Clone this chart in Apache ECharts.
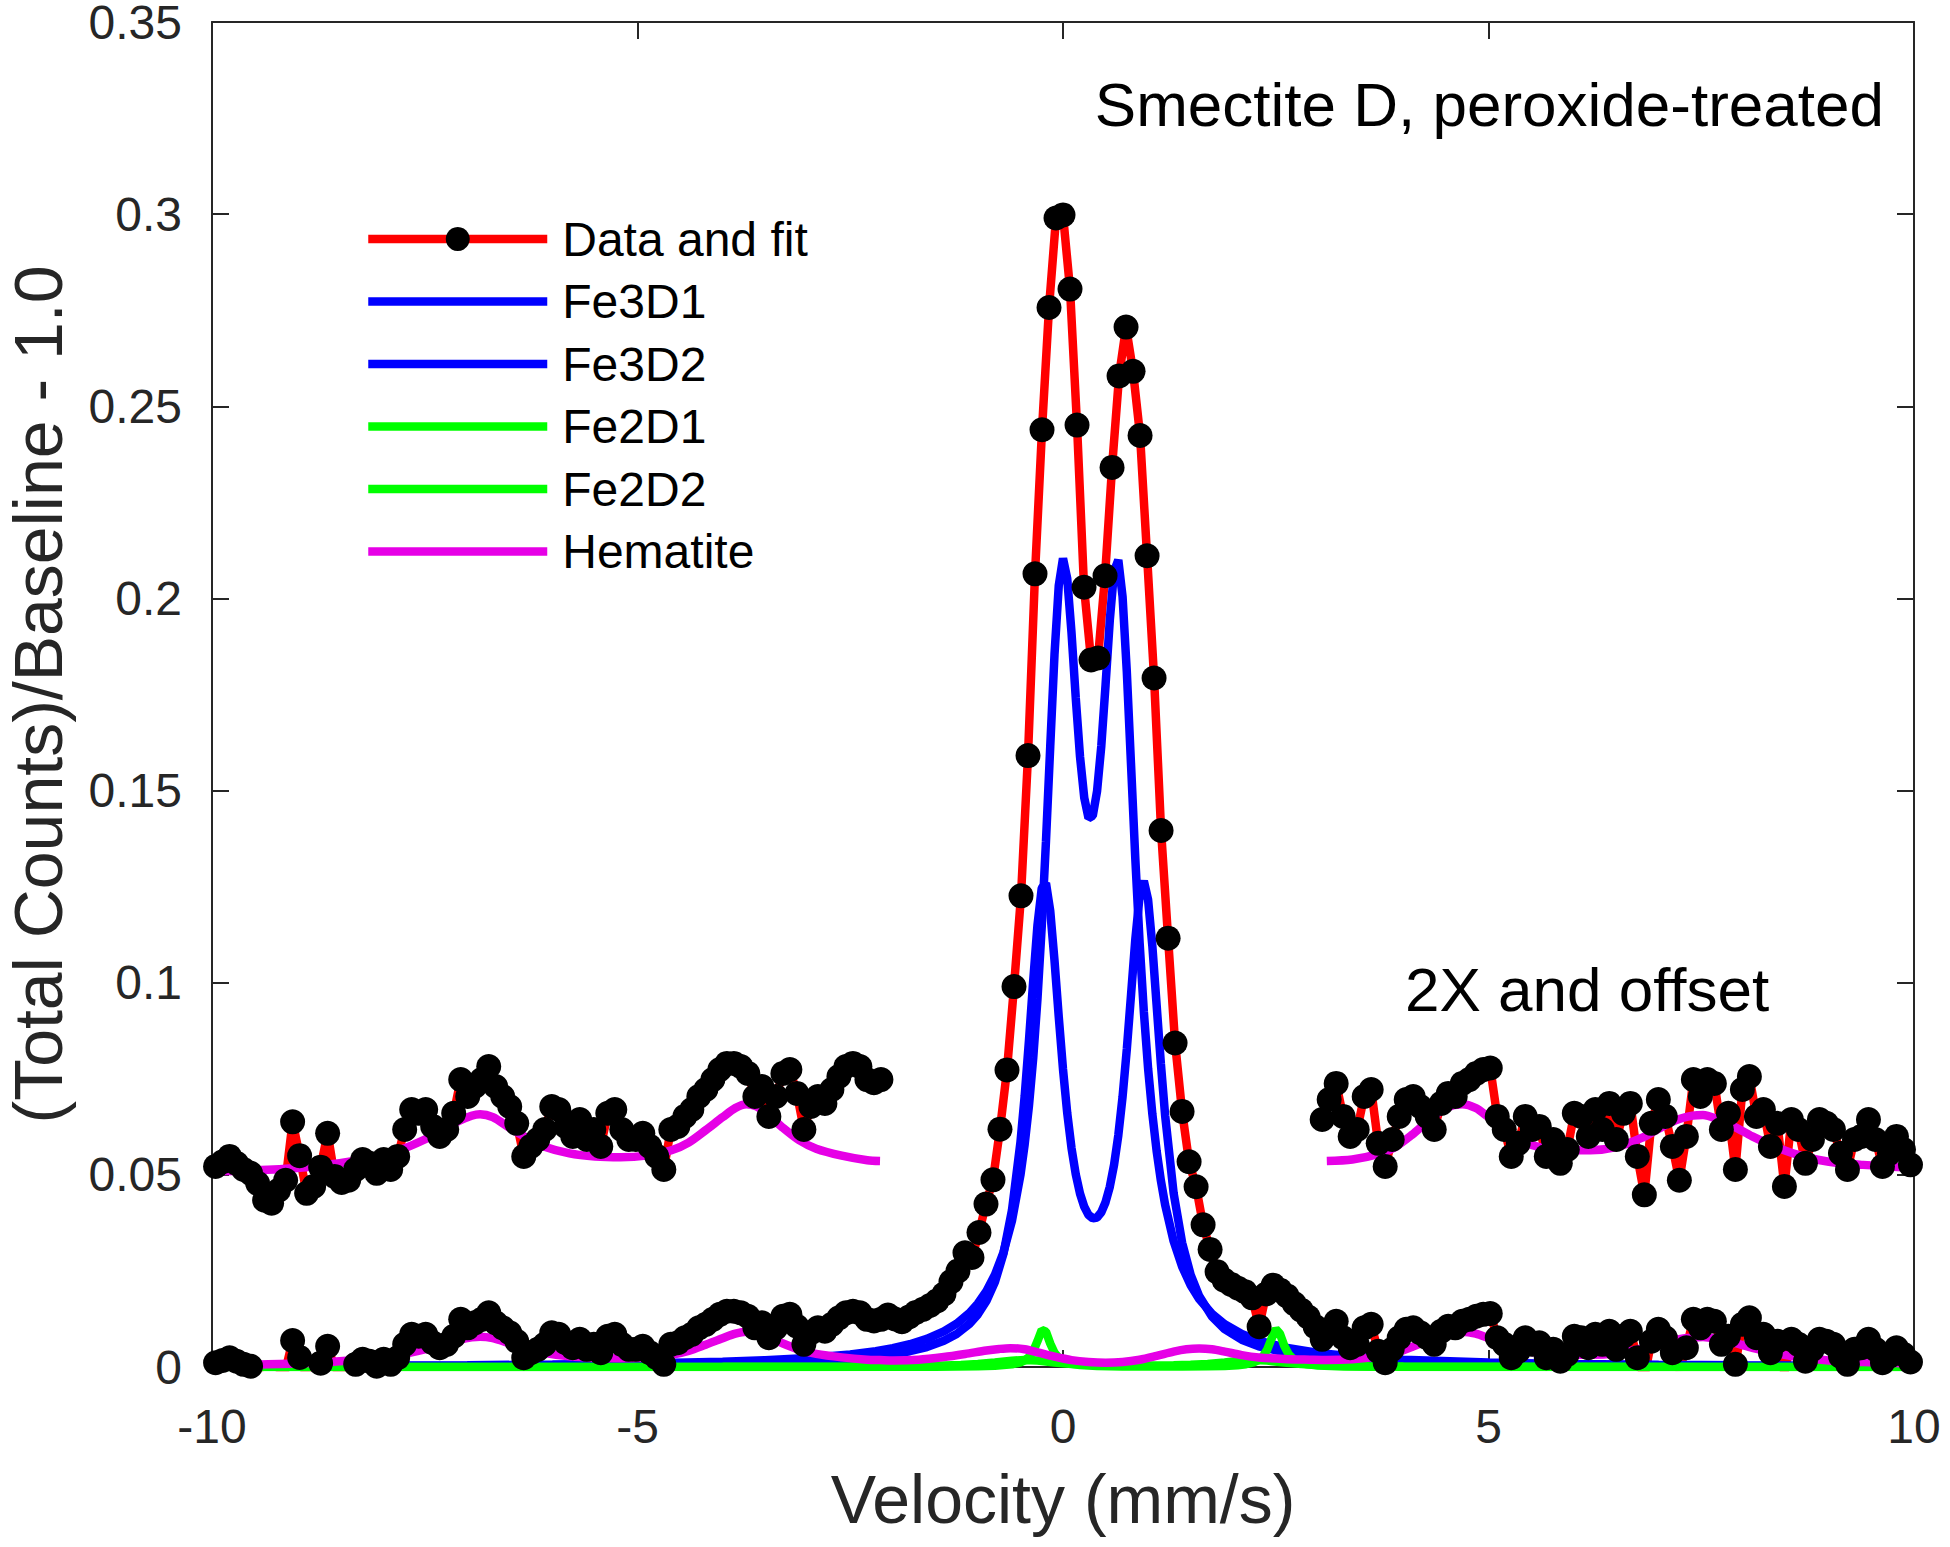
<!DOCTYPE html>
<html>
<head>
<meta charset="utf-8">
<script src="https://cdn.jsdelivr.net/npm/echarts@6/dist/echarts.min.js"></script>
<style>
  html, body { margin: 0; padding: 0; background: #fff; }
  #chart { width: 1950px; height: 1547px; }
</style>
</head>
<body>
<div id="chart"></div>
<script>
// ---------------- DATA ----------------
// Velocity channel grid (mm/s): first channel and channel step
const velStart = -9.958;
const velStep = 0.0823;

// Measured spectrum: (Total Counts)/Baseline - 1.0, one value per channel
const dataValues = [
  0.0011, 0.0017, 0.0024, 0.0015, 0.0007, 0.0002, -0.0011, -0.0033, -0.0037, -0.0020,
  -0.0007, 0.0069, 0.0025, -0.0024, -0.0015, 0.0010, 0.0054, -0.0002, -0.0010, -0.0007,
  0.0007, 0.0020, 0.0015, 0.0002, 0.0020, 0.0007, 0.0024, 0.0059, 0.0085, 0.0080,
  0.0085, 0.0063, 0.0050, 0.0059, 0.0080, 0.0124, 0.0102, 0.0115, 0.0124, 0.0141,
  0.0115, 0.0102, 0.0089, 0.0067, 0.0024, 0.0037, 0.0046, 0.0059, 0.0089, 0.0085,
  0.0063, 0.0050, 0.0072, 0.0046, 0.0059, 0.0037, 0.0080, 0.0085, 0.0059, 0.0046,
  0.0046, 0.0054, 0.0037, 0.0024, 0.0007, 0.0059, 0.0063, 0.0076, 0.0085, 0.0102,
  0.0111, 0.0124, 0.0137, 0.0145, 0.0145, 0.0141, 0.0132, 0.0102, 0.0115, 0.0076,
  0.0102, 0.0132, 0.0137, 0.0106, 0.0059, 0.0089, 0.0102, 0.0093, 0.0111, 0.0128,
  0.0141, 0.0145, 0.0141, 0.0124, 0.0120, 0.0124, 0.0135, 0.0125, 0.0118, 0.0130,
  0.0142, 0.0150, 0.0160, 0.0172, 0.0190, 0.0222, 0.0250, 0.0297, 0.0285, 0.0350,
  0.0424, 0.0487, 0.0619, 0.0773, 0.0990, 0.1226, 0.1591, 0.2064, 0.2439, 0.2757,
  0.2990, 0.2998, 0.2805, 0.2451, 0.2029, 0.1840, 0.1845, 0.2059, 0.2341, 0.2579,
  0.2706, 0.2591, 0.2424, 0.2111, 0.1793, 0.1396, 0.1116, 0.0843, 0.0665, 0.0534,
  0.0469, 0.0370, 0.0306, 0.0248, 0.0226, 0.0215, 0.0205, 0.0196, 0.0180, 0.0105,
  0.0190, 0.0213, 0.0200, 0.0185, 0.0165, 0.0148, 0.0130, 0.0105, 0.0072, 0.0098,
  0.0119, 0.0076, 0.0050, 0.0059, 0.0102, 0.0111, 0.0041, 0.0011, 0.0046, 0.0076,
  0.0098, 0.0102, 0.0089, 0.0076, 0.0059, 0.0093, 0.0106, 0.0102, 0.0119, 0.0124,
  0.0132, 0.0137, 0.0139, 0.0076, 0.0059, 0.0024, 0.0041, 0.0076, 0.0059, 0.0063,
  0.0024, 0.0046, 0.0015, 0.0033, 0.0080, 0.0076, 0.0050, 0.0085, 0.0059, 0.0093,
  0.0046, 0.0080, 0.0093, 0.0024, -0.0026, 0.0067, 0.0098, 0.0076, 0.0037, -0.0007,
  0.0050, 0.0124, 0.0102, 0.0124, 0.0119, 0.0059, 0.0080, 0.0007, 0.0111, 0.0128,
  0.0076, 0.0085, 0.0037, 0.0067, -0.0015, 0.0072, 0.0059, 0.0015, 0.0046, 0.0072,
  0.0067, 0.0059, 0.0028, 0.0007, 0.0046, 0.0050, 0.0072, 0.0046, 0.0011, 0.0028,
  0.0050, 0.0033, 0.0013
];

// Fe3+ doublet fit curves
const fe3Vel = [-10, -9, -8, -7, -6, -5, -4, -3.5, -3, -2.5, -2.2, -2, -1.8, -1.6, -1.4, -1.25, -1.1, -1,
  -0.9, -0.8, -0.7, -0.6, -0.5, -0.45, -0.4, -0.35, -0.3, -0.25, -0.2, -0.15, -0.1, -0.05,
  0, 0.05, 0.1, 0.15, 0.2, 0.25, 0.3, 0.35, 0.4, 0.45, 0.5, 0.55, 0.6, 0.65, 0.7, 0.75, 0.8,
  0.85, 0.9, 0.95, 1, 1.05, 1.1, 1.15, 1.2, 1.3, 1.4, 1.5, 1.6, 1.75, 1.9, 2.1, 2.3, 2.6, 3,
  3.5, 4, 5, 6, 7, 8, 9, 10];
const fe3d1Values = [0.00015, 0.00018, 0.00023, 0.0003, 0.0004, 0.00057, 0.00087, 0.00112, 0.00151,
  0.00215, 0.00276, 0.00333, 0.0041, 0.00519, 0.00681, 0.00859, 0.01121, 0.01371,
  0.01717, 0.02211, 0.02944, 0.04075, 0.05848, 0.07059, 0.08492, 0.10051, 0.11498, 0.12458,
  0.12593, 0.11869, 0.1058, 0.09114,
  0.07749, 0.06602, 0.05697, 0.05012, 0.04511, 0.04168, 0.03958, 0.03867, 0.0389, 0.04027,
  0.04288, 0.0469, 0.05261, 0.0603, 0.07031, 0.08272, 0.09699, 0.11136, 0.12248, 0.12649,
  0.12158, 0.10955, 0.09423, 0.07895, 0.06546, 0.04525, 0.03232, 0.024, 0.01846, 0.01315,
  0.00985, 0.00711, 0.0054, 0.0038, 0.00259, 0.00177, 0.00128, 0.00077, 0.00051, 0.00036,
  0.00028, 0.00021, 0.00017];
const fe3d2Values = [0.00024, 0.00029, 0.00037, 0.00047, 0.00064, 0.0009, 0.00137, 0.00176, 0.00234,
  0.00327, 0.00413, 0.00491, 0.00593, 0.00731, 0.00925, 0.01128, 0.01405, 0.01653,
  0.01975, 0.024, 0.02981, 0.038, 0.04994, 0.058, 0.06798, 0.08038, 0.09575, 0.11458,
  0.13684, 0.16145, 0.18532, 0.20332,
  0.21041, 0.20513, 0.19109, 0.17407, 0.15883, 0.14808, 0.14283, 0.14342, 0.1498, 0.16159,
  0.17745, 0.19433, 0.20707, 0.21001, 0.20047, 0.18083, 0.15646, 0.13214, 0.11052, 0.09242,
  0.07768, 0.06581, 0.05624, 0.04852, 0.04222, 0.03274, 0.02611, 0.0213, 0.01772, 0.01384,
  0.01112, 0.00859, 0.00684, 0.00508, 0.00363, 0.00256, 0.0019, 0.00116, 0.00079, 0.00057,
  0.00043, 0.00034, 0.00027];

// Fe2+ doublet fit curves
const fe2d1Vel = [-10, -6, -3, -2, -1.5, -1, -0.8, -0.6, -0.5, -0.45, -0.4, -0.35, -0.3, -0.25, -0.2,
  -0.15, -0.1, -0.05, 0, 0.1, 0.2, 0.4, 0.7, 1, 1.4, 1.7, 1.9, 2.05, 2.15, 2.25, 2.3, 2.35, 2.4,
  2.45, 2.5, 2.55, 2.6, 2.65, 2.7, 2.75, 2.85, 3, 3.3, 3.7, 4.5, 6, 10];
const fe2d1Values = [0.000002, 0.000004, 0.000016, 0.00004, 0.00007, 0.00017, 0.00031, 0.00069, 0.00122,
  0.00171, 0.00257, 0.0041, 0.00671, 0.00962, 0.00917, 0.0061, 0.00372, 0.00236, 0.00159,
  0.00084, 0.00051, 0.00027, 0.00014, 0.00011, 0.00012, 0.00018, 0.00028, 0.00045, 0.00072,
  0.00129, 0.00185, 0.00281, 0.00452, 0.00735, 0.0099, 0.00862, 0.00552, 0.00338, 0.00217,
  0.00148, 0.0008, 0.0004, 0.00016, 0.00007, 0.000025, 0.000008, 0.000002];
const fe2d2Vel = [-10, -8, -6, -4, -3, -2.5, -2, -1.5, -1.2, -1, -0.8, -0.6, -0.45, -0.3, -0.1, 0.1, 0.3,
  0.5, 0.7, 0.9, 1.1, 1.3, 1.5, 1.7, 1.9, 2.1, 2.25, 2.4, 2.6, 2.8, 3, 3.3, 3.6, 4, 5, 6, 8, 10];
const fe2d2Values = [0.000006, 0.00001, 0.000017, 0.000038, 0.000068, 0.0001, 0.00016, 0.0003, 0.00051,
  0.00076, 0.00116, 0.00166, 0.00185, 0.00167, 0.00118, 0.0008, 0.00057, 0.00044, 0.00038,
  0.00036, 0.00038, 0.00044, 0.00057, 0.0008, 0.00118, 0.00167, 0.00185, 0.00166, 0.00116,
  0.00076, 0.00051, 0.0003, 0.0002, 0.00013, 0.00006, 0.000035, 0.000016, 0.000009];

// Hematite sextet fit curve
const hemVel = [-10, -9.5, -9, -8.5, -8.1, -7.8, -7.5, -7.3, -7.1, -6.95, -6.85, -6.7, -6.5, -6.3, -6.1,
  -5.8, -5.5, -5.2, -4.9, -4.6, -4.4, -4.2, -4, -3.85, -3.72, -3.6, -3.45, -3.3, -3.1, -2.9, -2.6,
  -2.3, -2.15, -2, -1.7, -1.4, -1.15, -0.9, -0.75, -0.62, -0.45, -0.3, -0.1, 0.1, 0.3, 0.5, 0.7,
  0.9, 1.1, 1.3, 1.45, 1.6, 1.75, 1.9, 2.1, 2.3, 2.6, 2.9, 3.1, 3.4, 3.7, 3.9, 4.1, 4.3, 4.5,
  4.69, 4.85, 5, 5.2, 5.4, 5.6, 5.9, 6.2, 6.5, 6.8, 7, 7.2, 7.4, 7.52, 7.7, 7.9, 8.1, 8.4, 8.7,
  9, 9.4, 10];
const hemValues = [0.00045, 0.0006, 0.0009, 0.0015, 0.0023, 0.0032, 0.0046, 0.0058, 0.007, 0.0077,
  0.0079, 0.0075, 0.0061, 0.0048, 0.0037, 0.0028, 0.0024, 0.0023, 0.0025, 0.0032,
  0.0042, 0.0058, 0.0075, 0.0087, 0.0092, 0.0089, 0.0077, 0.0062, 0.0045, 0.0034,
  0.0025, 0.0019, 0.0018, 0.0017, 0.0019, 0.0026, 0.0034, 0.0043, 0.0047, 0.0049,
  0.0046, 0.0038, 0.0027, 0.0018, 0.0013, 0.0011, 0.0013, 0.0019, 0.0029, 0.004,
  0.0046, 0.0048, 0.0046, 0.004, 0.0031, 0.0025, 0.0021, 0.0019, 0.0018, 0.002,
  0.0027, 0.0036, 0.0052, 0.0071, 0.0087, 0.0092, 0.0087, 0.0075, 0.0058, 0.0044,
  0.0036, 0.0032, 0.0032, 0.0036, 0.0048, 0.006, 0.0071, 0.0077, 0.0078, 0.0072,
  0.0062, 0.005, 0.0035, 0.0024, 0.0017, 0.0013, 0.0009];

// "2X and offset" inset: gain, offset and the velocity windows it is shown in
const insetGain = 2;
const insetOffset = 0.05;
const insetLeftMax = -2.1;
const insetRightMin = 3.0;

// Axis ticks
const xTicks = [-10, -5, 0, 5, 10];
const yTicks = [0, 0.05, 0.1, 0.15, 0.2, 0.25, 0.3, 0.35];

// ---------------- BUILD ----------------
const velocity = dataValues.map((_, i) => Math.round((velStart + i * velStep) * 10000) / 10000);
const zip = (xs, ys) => xs.map((x, i) => [x, ys[i]]);
const dataPts = zip(velocity, dataValues);
const inset = (pts, keep) => pts.filter(p => keep(p[0])).map(p => [p[0], insetOffset + insetGain * p[1]]);
const leftWin = v => v <= insetLeftMax;
const rightWin = v => v >= insetRightMin;
const hemPts = zip(hemVel, hemValues);

const FONT = '"Liberation Sans", Arial, Helvetica, sans-serif';
const AX = '#262626';
const RED = '#ff0000', BLUE = '#0000ff', GREEN = '#00ff00', MAG = '#e600e6';
const LW = 8.5;

function dataSeries(name, pts) {
  return {
    name, type: 'line', data: pts, symbol: 'circle', symbolSize: 25,
    showSymbol: true, showAllSymbol: true,
    lineStyle: { color: RED, width: LW }, itemStyle: { color: '#000' },
    emphasis: { disabled: true }, animation: false, silent: true
  };
}
function curve(name, pts, color, smooth) {
  return {
    name, type: 'line', data: pts, symbol: 'none', smooth: smooth || false,
    lineStyle: { color, width: LW }, itemStyle: { color },
    emphasis: { disabled: true }, animation: false, silent: true
  };
}

const axisCommon = {
  type: 'value',
  axisLine: { show: true, onZero: false, lineStyle: { color: AX, width: 2 } },
  axisTick: { show: true, inside: true, length: 17, lineStyle: { color: AX, width: 2 } },
  splitLine: { show: false }
};

const lineIcon = 'path://M0,0H179V8.5H0Z';

const option = {
  backgroundColor: '#ffffff',
  animation: false,
  grid: { left: 212, right: 36, top: 22, bottom: 180, containLabel: false, outerBoundsMode: 'none' },
  xAxis: [
    Object.assign({}, axisCommon, {
      min: xTicks[0], max: xTicks[xTicks.length - 1], interval: 5, position: 'bottom',
      axisLabel: { fontSize: 48, color: AX, fontFamily: FONT, margin: 35 },
      name: 'Velocity (mm/s)', nameLocation: 'middle', nameGap: 98,
      nameTextStyle: { fontSize: 68, color: AX, fontFamily: FONT }
    }),
    Object.assign({}, axisCommon, {
      min: xTicks[0], max: xTicks[xTicks.length - 1], interval: 5, position: 'top',
      axisLabel: { show: false }
    })
  ],
  yAxis: [
    Object.assign({}, axisCommon, {
      min: yTicks[0], max: yTicks[yTicks.length - 1], interval: 0.05, position: 'left',
      axisLabel: { fontSize: 48, color: AX, fontFamily: FONT, margin: 30, lineHeight: 30 },
      name: '(Total Counts)/Baseline - 1.0', nameLocation: 'middle', nameRotate: 90, nameGap: 141,
      nameTextStyle: { fontSize: 68, color: AX, fontFamily: FONT, lineHeight: 66 }
    }),
    Object.assign({}, axisCommon, {
      min: yTicks[0], max: yTicks[yTicks.length - 1], interval: 0.05, position: 'right',
      axisLabel: { show: false }
    })
  ],
  legend: {
    show: true, orient: 'vertical', left: 359, top: 210,
    itemWidth: 179, itemHeight: 30, itemGap: 14.5,
    selectedMode: false,
    lineStyle: { width: LW },
    textStyle: { fontSize: 48, color: '#000', fontFamily: FONT, lineHeight: 48, padding: [0, 0, 0, 10] },
    data: [
      { name: 'Data and fit' },
      { name: 'Fe3D1', icon: lineIcon },
      { name: 'Fe3D2', icon: lineIcon },
      { name: 'Fe2D1', icon: lineIcon },
      { name: 'Fe2D2', icon: lineIcon },
      { name: 'Hematite', icon: lineIcon }
    ]
  },
  graphic: [
    { type: 'text', x: 1884, y: 104, silent: true,
      style: { text: 'Smectite D, peroxide-treated', fill: '#000', font: '62px ' + FONT,
               align: 'right', verticalAlign: 'middle', textAlign: 'right', textVerticalAlign: 'middle' } },
    { type: 'text', x: 1405, y: 989, silent: true,
      style: { text: '2X and offset', fill: '#000', font: '62px ' + FONT,
               align: 'left', verticalAlign: 'middle', textAlign: 'left', textVerticalAlign: 'middle' } }
  ],
  series: [
    dataSeries('Data and fit', dataPts),
    dataSeries('Data inset left', inset(dataPts, leftWin)),
    dataSeries('Data inset right', inset(dataPts, rightWin)),
    curve('Fe3D1', zip(fe3Vel, fe3d1Values), BLUE),
    curve('Fe3D2', zip(fe3Vel, fe3d2Values), BLUE),
    curve('Fe2D1', zip(fe2d1Vel, fe2d1Values), GREEN),
    curve('Fe2D2', zip(fe2d2Vel, fe2d2Values), GREEN),
    curve('Hematite', hemPts, MAG, 0.3),
    curve('Hematite inset left', inset(hemPts, leftWin), MAG, 0.3),
    curve('Hematite inset right', inset(hemPts, rightWin), MAG, 0.3)
  ]
};

const chart = echarts.init(document.getElementById('chart'), null, { renderer: 'svg', width: 1950, height: 1547 });
chart.setOption(option);
</script>
</body>
</html>
